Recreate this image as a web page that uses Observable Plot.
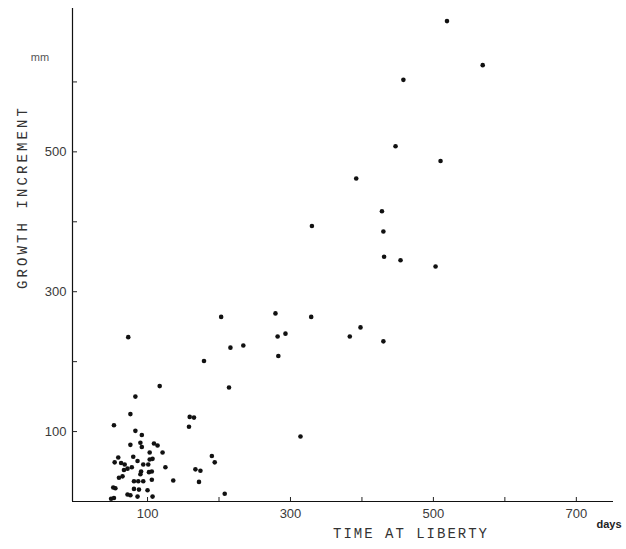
<!DOCTYPE html>
<html>
<head>
<meta charset="utf-8">
<script src="https://cdn.jsdelivr.net/npm/d3@7"></script>
<script src="https://cdn.jsdelivr.net/npm/@observablehq/plot@0.6"></script>
<style>
  html, body { margin: 0; padding: 0; background: #fff; }
</style>
</head>
<body>
<div id="chart"></div>
<script>
// Time at liberty (days)
const days = [
  519, 569, 458, 447, 510, 392, 428, 330, 430, 431, 454, 503,
  329, 383, 398, 430, 203, 279, 282, 293, 216, 234, 283, 179, 214,
  73, 117, 83, 314, 76, 53, 159, 165, 158,
  83, 92, 76, 90, 92, 109, 114, 103, 121, 59, 80, 54, 63, 68, 86, 94,
  103, 107, 101, 125, 67, 72, 78, 91, 90, 102, 106, 60, 65, 81, 87, 94,
  106, 136, 167, 174, 190, 194, 172, 52, 55, 81, 88, 100, 72, 76, 86, 107,
  49, 53, 208
];
// Growth increment (mm)
const growth = [
  687, 624, 603, 508, 487, 462, 415, 394, 386, 350, 345, 336,
  264, 236, 249, 229, 264, 269, 236, 240, 220, 223, 208, 201, 163,
  235, 165, 150, 93, 125, 109, 121, 120, 107,
  101, 95, 81, 84, 78, 83, 80, 70, 70, 63, 64, 56, 55, 53, 58, 53,
  60, 61, 53, 49, 45, 47, 49, 43, 39, 42, 43, 34, 36, 29, 29, 29,
  31, 30, 46, 44, 65, 56, 28, 20, 19, 18, 17, 16, 10, 9, 7, 7,
  4, 5, 11
];
const xDomain = [-5, 752];
const yDomain = [0, 705];
const xTicks = [100, 200, 300, 400, 500, 600, 700];
const xTickLabels = [100, 300, 500, 700];
const yTicks = [100, 200, 300, 400, 500, 600];
const yTickLabels = [100, 300, 500];

const data = days.map((d, i) => ({days: d, growth: growth[i]}));

const W = 626, H = 549;
const mL = 72, mR = 13, mT = 8, mB = 48;
const plotW = W - mL - mR, plotH = H - mT - mB;

const chart = Plot.plot({
  width: W,
  height: H,
  marginLeft: mL,
  marginRight: mR,
  marginTop: mT,
  marginBottom: mB,
  style: {background: "#fff", fontFamily: "'Liberation Sans', sans-serif"},
  x: {domain: xDomain, label: null},
  y: {domain: yDomain, label: null},
  marks: [
    // axis lines
    Plot.ruleX([xDomain[0]], {stroke: "#111", strokeWidth: 1.2}),
    Plot.ruleY([yDomain[0]], {stroke: "#111", strokeWidth: 1.2}),
    // inward tick marks
    Plot.tickX(xTicks, {x: d => d, insetTop: plotH - 4, stroke: "#222"}),
    Plot.tickY(yTicks, {y: d => d, insetRight: plotW - 5, stroke: "#222"}),
    // tick labels
    Plot.axisX({ticks: xTickLabels, tickSize: 0, tickPadding: 7, fontSize: 13, color: "#3a3a3a", label: null}),
    Plot.axisY({ticks: yTickLabels, tickSize: 0, tickPadding: 6, fontSize: 13, color: "#3a3a3a", label: null}),
    // data points
    Plot.dot(data, {x: "days", y: "growth", r: 2.3, fill: "#111", stroke: null})
  ]
});

const svg = d3.select(chart);
svg.append("text")
  .attr("x", 40).attr("y", 61)
  .attr("text-anchor", "middle")
  .attr("font-family", "'Liberation Sans', sans-serif")
  .attr("font-size", 11).attr("fill", "#555")
  .text("mm");
svg.append("text")
  .attr("transform", "translate(27,197) rotate(-90)")
  .attr("text-anchor", "middle")
  .attr("font-family", "'Liberation Mono', monospace")
  .attr("font-size", 14).attr("fill", "#333")
  .attr("letter-spacing", 3.1)
  .text("GROWTH INCREMENT");
svg.append("text")
  .attr("x", 411).attr("y", 538)
  .attr("text-anchor", "middle")
  .attr("font-family", "'Liberation Mono', monospace")
  .attr("font-size", 14).attr("fill", "#333")
  .attr("letter-spacing", 2)
  .text("TIME AT LIBERTY");
svg.append("text")
  .attr("x", 609).attr("y", 528)
  .attr("text-anchor", "middle")
  .attr("font-family", "'Liberation Sans', sans-serif")
  .attr("font-size", 11).attr("font-weight", "bold").attr("fill", "#222")
  .text("days");

document.getElementById("chart").appendChild(chart);
</script>
</body>
</html>
